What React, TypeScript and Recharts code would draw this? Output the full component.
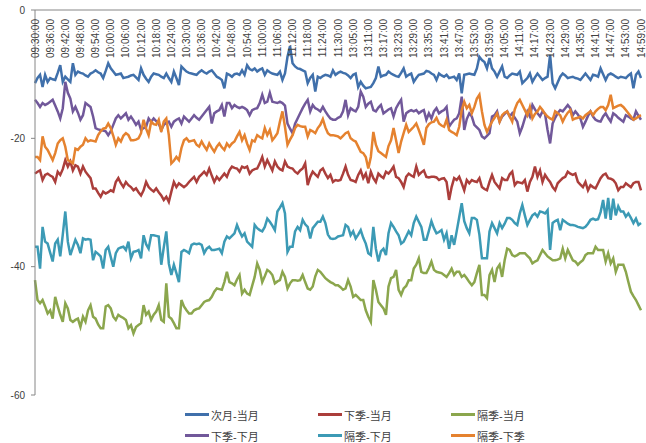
import { LineChart, Line, XAxis, YAxis } from "recharts";

// trading sessions (one point per minute)
const SESSIONS = [
    { start: "09:30", end: "11:30" },
    { start: "13:00", end: "14:59" },
];

const Y_TICKS = [0, -20, -40, -60];

// 次月-当月
const nextMonthVsCurrent = [
    -11.4, -10.6, -10.1, -12.0, -10.1, -11.2, -10.6, -10.8, -10.9, -9.8,
    -8.6, -11.2, -10.4, -10.8, -11.2, -8.3, -10.1, -9.6, -9.8, -9.9,
    -10.2, -10.4, -9.9, -9.7, -9.4, -9.7, -9.9, -10.6, -9.5, -8.3,
    -9.1, -9.6, -10.1, -10.0, -9.9, -10.6, -10.5, -10.4, -10.2, -10.1,
    -10.5, -10.9, -9.1, -10.1, -10.7, -11.2, -10.4, -9.9, -10.0, -10.1,
    -10.4, -10.6, -9.9, -10.6, -11.2, -9.6, -10.6, -11.7, -8.8, -9.2,
    -9.6, -9.8, -9.9, -10.0, -10.1, -9.7, -9.4, -9.7, -9.9, -9.6,
    -9.4, -9.9, -10.4, -10.6, -10.9, -12.2, -9.9, -10.1, -10.4, -10.0,
    -9.9, -10.1, -9.4, -10.1, -8.6, -9.2, -9.4, -9.1, -9.6, -9.3,
    -9.1, -10.1, -9.4, -9.7, -9.9, -10.0, -10.1, -9.6, -10.9, -9.9,
    -7.3, -5.6, -8.3, -8.8, -9.1, -9.2, -9.4, -9.6, -11.4, -10.6,
    -10.1, -12.7, -10.4, -10.6, -10.3, -10.1, -10.2, -10.4, -9.4, -10.1,
    -9.8, -9.6, -9.8, -9.9, -10.2, -10.6, -10.1, -9.9, -12.0, -11.2,
    -11.8, -12.2, -12.1, -12.0, -11.4, -10.6, -8.8, -10.4, -10.2, -10.1,
    -9.6, -9.9, -10.1, -10.3, -10.4, -9.8, -9.1, -10.4, -10.1, -9.9,
    -11.2, -10.6, -10.1, -10.0, -9.9, -9.5, -9.6, -9.9, -10.1, -10.9,
    -9.9, -10.2, -10.4, -10.1, -10.6, -10.5, -10.4, -10.9, -9.9, -13.0,
    -10.1, -10.0, -9.9, -10.0, -10.1, -9.1, -7.3, -7.8, -8.1, -9.1,
    -7.5, -9.1, -9.6, -10.4, -9.6, -8.8, -10.4, -10.6, -10.2, -9.9,
    -10.0, -10.1, -9.6, -11.4, -11.0, -10.6, -9.9, -11.2, -10.5, -9.9,
    -10.4, -10.9, -10.6, -10.4, -7.0, -11.4, -12.2, -11.3, -10.4, -9.9,
    -10.2, -10.6, -10.5, -10.4, -10.6, -10.7, -10.9, -10.4, -9.9, -10.4,
    -10.9, -10.1, -10.2, -10.4, -9.1, -10.0, -10.9, -10.1, -9.9, -10.1,
    -10.4, -10.6, -10.4, -10.5, -10.6, -10.2, -9.9, -12.2, -10.1, -9.6,
    -10.6,
];

// 下季-当月
const nextQuarterVsCurrent = [
    -25.5, -25.2, -25.0, -26.5, -25.7, -25.5, -25.8, -26.0, -26.8, -25.2,
    -25.7, -24.8, -23.4, -24.4, -23.6, -25.0, -24.2, -24.4, -25.5, -24.4,
    -25.2, -25.7, -26.2, -27.8, -27.8, -28.5, -29.1, -28.3, -28.6, -28.4,
    -28.1, -28.3, -26.8, -26.2, -27.0, -27.6, -26.8, -27.3, -27.6, -28.1,
    -27.8, -28.4, -28.9, -28.1, -26.8, -27.6, -28.0, -28.3, -27.8, -28.4,
    -28.9, -29.6, -29.1, -29.9, -28.3, -26.8, -27.6, -27.0, -27.3, -27.6,
    -27.3, -26.8, -26.4, -26.0, -26.8, -26.0, -25.6, -25.2, -25.7, -24.7,
    -25.8, -26.8, -26.0, -26.5, -26.0, -25.5, -26.0, -25.0, -24.4, -24.6,
    -24.7, -25.2, -24.4, -24.6, -24.4, -25.5, -25.0, -24.8, -24.7, -23.9,
    -22.9, -24.4, -23.4, -24.2, -25.0, -23.6, -24.4, -24.8, -25.0, -23.6,
    -24.4, -24.6, -24.7, -25.2, -25.5, -25.0, -24.7, -23.9, -27.3, -26.0,
    -25.2, -25.6, -26.0, -25.0, -24.7, -25.5, -26.2, -25.7, -26.8, -26.5,
    -26.6, -26.5, -25.5, -24.4, -25.7, -26.5, -26.6, -26.8, -25.7, -25.0,
    -26.2, -25.5, -27.0, -25.2, -26.2, -26.8, -25.5, -25.9, -26.2, -25.2,
    -25.5, -25.0, -24.4, -26.0, -26.2, -26.8, -27.6, -26.0, -25.5, -25.8,
    -26.0, -24.4, -25.7, -25.3, -25.0, -26.0, -26.1, -26.0, -26.0, -26.1,
    -26.5, -26.3, -26.2, -26.8, -29.6, -27.6, -26.2, -26.5, -26.0, -27.0,
    -28.1, -26.5, -27.0, -26.5, -26.7, -26.8, -26.2, -27.6, -27.9, -28.1,
    -26.8, -25.7, -26.8, -27.3, -27.8, -26.2, -26.5, -26.5, -25.6, -25.2,
    -27.3, -26.8, -26.9, -27.0, -26.5, -28.3, -26.8, -26.0, -24.4, -26.0,
    -25.0, -26.8, -25.7, -26.3, -26.8, -27.6, -28.1, -27.0, -26.6, -26.2,
    -26.0, -25.2, -25.5, -25.7, -25.5, -26.8, -27.2, -27.6, -26.8, -28.1,
    -27.3, -27.6, -27.8, -27.0, -26.2, -25.7, -25.5, -26.2, -26.3, -26.5,
    -27.0, -28.1, -27.6, -27.6, -27.0, -27.3, -27.6, -27.0, -26.8, -26.8,
    -28.1,
];

// 隔季-当月
const farQuarterVsCurrent = [
    -42.1, -45.2, -45.7, -45.2, -46.2, -47.3, -46.8, -48.1, -44.7, -46.2,
    -47.5, -48.6, -45.7, -46.5, -48.3, -48.6, -48.3, -48.1, -49.4, -47.8,
    -48.6, -46.8, -46.0, -47.8, -48.1, -49.0, -49.6, -49.6, -46.2, -46.0,
    -46.5, -47.8, -48.3, -47.5, -47.8, -48.0, -48.3, -49.6, -49.1, -50.4,
    -49.4, -49.1, -48.8, -46.0, -47.5, -47.0, -48.3, -47.5, -47.0, -46.0,
    -48.3, -48.6, -42.6, -47.8, -48.1, -48.8, -49.6, -49.6, -45.2, -46.2,
    -46.8, -47.3, -47.3, -46.8, -46.6, -46.5, -46.0, -45.5, -45.3, -45.2,
    -44.7, -43.9, -43.4, -43.5, -43.6, -42.4, -40.8, -42.4, -42.6, -42.9,
    -42.0, -41.3, -44.2, -43.6, -44.2, -44.4, -43.0, -41.6, -39.5, -40.5,
    -42.4, -41.5, -40.5, -40.8, -41.3, -42.6, -42.3, -42.1, -40.8, -41.6,
    -43.4, -42.6, -42.1, -42.1, -42.2, -42.1, -41.3, -42.4, -43.4, -43.6,
    -43.1, -41.5, -40.5, -40.8, -41.3, -41.8, -42.1, -42.4, -42.6, -42.9,
    -42.9, -43.2, -43.6, -43.4, -42.1, -43.1, -44.7, -44.4, -44.8, -45.2,
    -45.2, -46.8, -47.8, -48.6, -42.1, -43.6, -45.5, -46.0, -46.5, -47.5,
    -43.1, -41.8, -41.6, -40.5, -43.6, -44.4, -43.4, -43.0, -42.1, -42.1,
    -40.3, -39.7, -38.7, -40.8, -41.0, -41.0, -40.2, -39.2, -40.5, -40.8,
    -40.9, -41.0, -41.3, -41.6, -41.0, -40.3, -41.3, -40.8, -40.8, -41.6,
    -41.3, -41.8, -42.4, -42.9, -42.4, -41.0, -39.7, -44.4, -44.4, -44.9,
    -41.3, -40.5, -42.4, -40.3, -39.7, -41.6, -39.0, -37.2, -37.4, -38.2,
    -38.4, -38.2, -37.9, -37.9, -37.9, -38.3, -38.7, -39.5, -39.2, -39.0,
    -38.2, -37.4, -37.9, -38.4, -38.7, -39.0, -39.0, -38.9, -38.7, -37.2,
    -38.7, -37.4, -38.2, -39.0, -39.2, -39.7, -39.3, -39.0, -38.2, -37.9,
    -37.9, -37.9, -36.9, -37.4, -37.4, -37.4, -39.2, -37.9, -39.5, -38.7,
    -40.8, -39.7, -39.7, -39.7, -40.8, -42.4, -43.9, -44.6, -45.2, -46.0,
    -46.8,
];

// 下季-下月
const nextQuarterVsNextMonth = [
    -14.0, -14.5, -15.1, -14.5, -14.8, -14.6, -14.3, -14.0, -14.9, -15.8,
    -16.9, -15.3, -11.2, -12.9, -13.8, -15.8, -15.1, -16.0, -17.1, -16.4,
    -14.5, -14.8, -15.1, -16.6, -18.4, -18.6, -18.7, -18.8, -18.9, -19.5,
    -18.9, -17.9, -16.9, -16.4, -16.9, -16.5, -16.1, -17.1, -16.6, -17.2,
    -17.9, -17.4, -18.7, -18.4, -18.2, -16.9, -17.4, -16.9, -17.3, -17.7,
    -18.7, -17.9, -17.6, -17.4, -18.2, -17.4, -17.1, -16.9, -17.7, -16.6,
    -17.0, -17.4, -16.9, -16.4, -16.8, -17.1, -16.6, -16.1, -15.6, -15.1,
    -17.7, -16.1, -15.8, -15.6, -14.8, -16.6, -14.5, -14.5, -15.3, -14.8,
    -15.1, -15.3, -15.1, -15.3, -15.6, -16.4, -15.6, -15.4, -15.3, -14.5,
    -13.2, -14.5, -14.3, -12.9, -14.3, -14.4, -14.5, -14.3, -14.5, -14.9,
    -17.7, -18.5, -19.2, -17.7, -16.9, -16.1, -15.3, -14.6, -14.0, -15.8,
    -14.8, -15.3, -15.5, -15.8, -15.1, -15.8, -16.4, -16.9, -17.1, -17.1,
    -16.8, -16.6, -15.8, -14.0, -16.4, -15.3, -15.6, -15.8, -15.1, -12.7,
    -13.5, -15.1, -14.6, -14.3, -15.6, -15.8, -15.2, -14.8, -16.1, -15.8,
    -15.5, -15.3, -16.6, -15.3, -14.6, -14.0, -17.4, -16.1, -15.8, -15.6,
    -15.8, -15.6, -16.1, -15.8, -15.6, -17.1, -16.1, -16.9, -15.8, -15.3,
    -16.1, -15.8, -15.6, -15.1, -18.2, -17.6, -17.1, -16.9, -16.1, -13.5,
    -18.7, -17.0, -16.1, -16.6, -17.9, -18.3, -18.7, -19.7, -20.0, -19.6,
    -19.2, -16.6, -16.4, -15.8, -17.4, -16.6, -16.2, -15.8, -16.6, -16.1,
    -16.8, -17.4, -19.2, -18.2, -16.9, -15.8, -16.6, -14.8, -15.5, -16.1,
    -16.6, -15.8, -16.2, -18.7, -20.8, -17.7, -16.8, -16.1, -15.6, -15.8,
    -15.3, -14.8, -15.3, -16.4, -15.8, -16.3, -16.9, -18.2, -17.4, -16.5,
    -15.8, -16.6, -17.1, -17.3, -17.4, -16.6, -16.1, -16.8, -17.4, -16.1,
    -16.4, -16.8, -17.1, -17.4, -16.4, -16.6, -16.9, -17.1, -15.8, -16.5,
    -17.1,
];

// 隔季-下月
const farQuarterVsNextMonth = [
    -36.9, -36.9, -40.3, -33.8, -36.1, -36.4, -37.8, -39.2, -36.4, -35.8,
    -38.4, -35.0, -31.4, -36.1, -38.2, -37.0, -35.8, -36.6, -37.9, -35.6,
    -35.8, -35.7, -35.8, -39.0, -37.7, -38.0, -38.4, -40.3, -37.4, -36.9,
    -38.5, -40.0, -37.9, -37.2, -37.0, -36.9, -37.4, -36.1, -38.7, -37.7,
    -37.6, -37.4, -38.7, -35.1, -36.5, -37.2, -35.1, -35.1, -35.2, -35.3,
    -39.7, -37.0, -34.5, -39.5, -41.3, -39.7, -41.0, -42.4, -37.7, -37.4,
    -37.6, -37.9, -36.6, -36.4, -36.5, -36.4, -36.6, -37.9, -37.2, -36.9,
    -37.4, -37.4, -37.3, -37.2, -37.9, -36.1, -35.3, -35.6, -35.2, -34.8,
    -33.5, -34.5, -35.3, -34.8, -36.1, -36.5, -36.9, -33.5, -34.0, -34.3,
    -34.5, -33.8, -32.5, -33.0, -33.6, -34.3, -31.4, -30.8, -30.1, -31.7,
    -37.7, -36.9, -36.9, -34.5, -33.8, -34.3, -32.7, -33.4, -33.8, -35.6,
    -34.0, -33.5, -33.0, -33.0, -32.2, -33.2, -35.0, -35.6, -35.7, -35.6,
    -35.3, -35.2, -35.1, -33.5, -33.8, -35.1, -34.5, -35.6, -35.0, -34.3,
    -35.5, -36.4, -37.9, -38.2, -33.8, -37.2, -39.2, -37.6, -37.2, -38.2,
    -34.8, -33.2, -33.8, -34.5, -35.1, -36.4, -36.1, -35.3, -34.5, -35.1,
    -33.2, -32.2, -33.0, -33.8, -35.8, -35.8, -34.4, -32.9, -34.0, -34.8,
    -34.6, -34.3, -35.8, -34.8, -37.2, -35.1, -36.6, -34.5, -32.3, -30.1,
    -32.9, -34.0, -34.8, -32.4, -32.4, -32.7, -35.0, -38.7, -38.7, -38.7,
    -34.5, -33.2, -34.0, -34.8, -33.2, -34.0, -33.3, -32.4, -32.4, -32.7,
    -33.2, -33.5, -31.7, -30.4, -32.0, -33.5, -32.7, -32.0, -31.7, -32.2,
    -31.4, -31.5, -31.7, -31.2, -37.4, -33.2, -32.9, -32.7, -34.3, -32.7,
    -33.0, -33.3, -33.5, -33.5, -33.6, -33.8, -33.9, -34.0, -33.8, -33.3,
    -32.7, -32.5, -32.7, -32.6, -31.5, -29.6, -32.5, -29.3, -32.7, -29.4,
    -32.0, -30.6, -31.4, -31.4, -32.2, -31.7, -32.4, -33.2, -32.5, -33.5,
    -33.2,
];

// 隔季-下季
const farQuarterVsNextQuarter = [
    -22.9, -22.9, -23.4, -19.7, -21.3, -21.8, -22.6, -23.4, -22.3, -20.8,
    -20.3, -20.0, -21.3, -23.4, -23.6, -23.9, -21.6, -21.8, -21.3, -21.0,
    -20.0, -20.5, -20.3, -20.4, -20.5, -19.5, -18.9, -18.5, -18.4, -17.7,
    -18.4, -19.6, -21.0, -20.0, -20.5, -19.6, -19.2, -19.5, -20.3, -20.3,
    -20.2, -20.0, -19.2, -17.1, -18.5, -19.5, -17.4, -17.8, -17.9, -17.1,
    -19.0, -17.4, -16.9, -19.5, -23.9, -23.5, -22.9, -23.4, -21.5, -20.3,
    -20.0, -20.5, -20.4, -20.3, -21.0, -21.3, -20.5, -21.2, -21.8, -20.8,
    -21.5, -22.1, -21.3, -20.8, -21.4, -21.8, -20.8, -21.3, -20.8, -20.5,
    -19.7, -19.0, -20.3, -19.5, -20.8, -21.8, -20.3, -20.5, -19.5, -19.8,
    -20.0, -18.4, -19.5, -18.7, -20.3, -19.8, -19.2, -17.4, -15.8, -18.2,
    -21.0, -20.2, -19.5, -18.4, -17.9, -18.1, -18.2, -18.2, -19.7, -18.7,
    -18.9, -19.2, -18.4, -17.9, -17.0, -18.3, -19.2, -19.5, -19.5, -19.6,
    -19.7, -20.0, -19.6, -19.2, -19.0, -20.0, -20.3, -20.5, -21.3, -22.1,
    -22.3, -22.9, -24.7, -22.9, -19.0, -21.0, -22.0, -22.3, -22.6, -22.9,
    -21.2, -20.3, -18.4, -20.3, -22.3, -20.5, -19.2, -17.9, -19.0, -18.6,
    -18.2, -17.7, -18.7, -19.8, -21.0, -18.4, -17.8, -17.5, -17.4, -16.8,
    -17.7, -18.0, -18.2, -17.1, -18.7, -19.0, -19.2, -19.5, -18.2, -15.6,
    -14.3, -15.3, -14.8, -16.1, -15.1, -13.8, -13.2, -15.8, -17.9, -19.0,
    -18.2, -17.4, -16.8, -16.1, -17.4, -16.4, -16.0, -15.8, -16.6, -17.4,
    -15.5, -14.5, -14.0, -14.8, -15.6, -16.4, -15.1, -16.9, -16.2, -15.8,
    -15.1, -15.6, -16.2, -16.6, -16.9, -17.1, -15.8, -16.1, -16.4, -17.4,
    -16.6, -16.0, -15.6, -17.1, -16.9, -16.8, -16.6, -16.9, -16.4, -16.1,
    -15.8, -16.4, -15.8, -15.4, -15.1, -15.1, -15.6, -14.8, -13.2, -15.3,
    -15.1, -14.9, -14.8, -15.1, -15.6, -16.1, -16.6, -17.1, -16.9, -16.6,
    -16.4,
];

const SERIES = [
    { key: "s1", name: "次月-当月", color: "#4070AB", values: nextMonthVsCurrent },
    { key: "s2", name: "下季-当月", color: "#AB3E3B", values: nextQuarterVsCurrent },
    { key: "s3", name: "隔季-当月", color: "#8BA64D", values: farQuarterVsCurrent },
    { key: "s4", name: "下季-下月", color: "#71589A", values: nextQuarterVsNextMonth },
    { key: "s5", name: "隔季-下月", color: "#3C9AB5", values: farQuarterVsNextMonth },
    { key: "s6", name: "隔季-下季", color: "#E5822F", values: farQuarterVsNextQuarter },
];

const toMin = (s: string) => {
    const [h, m] = s.split(":").map(Number);
    return h * 60 + m;
};
const pad = (n: number) => String(n).padStart(2, "0");

function buildTimes() {
    const out: string[] = [];
    SESSIONS.forEach(({ start, end }) => {
        for (let t = toMin(start); t <= toMin(end); t++) {
            out.push(`${pad(Math.floor(t / 60))}:${pad(t % 60)}:00`);
        }
    });
    return out;
}

const times = buildTimes();
const data = times.map((time, i) => {
    const row: Record<string, string | number> = { time };
    SERIES.forEach((s) => {
        row[s.key] = s.values[i];
    });
    return row;
});

const FONT = "'Liberation Sans', Arial, 'Noto Sans CJK SC', sans-serif";
const PLOT_TOP = 10;

const TimeTick = (props: any) => {
    const { x, payload } = props;
    return (
        <text
            transform={`translate(${x},${PLOT_TOP + 9}) rotate(-90)`}
            textAnchor="end"
            dy="0.35em"
            fontSize={10}
            fontFamily={FONT}
            fill="#404040"
        >
            {payload.value}
        </text>
    );
};

export default function App() {
    return (
        <div style={{ position: "absolute", left: 0, top: 0, width: 646, height: 443, background: "#fff" }}>
            <LineChart
                width={646}
                height={443}
                data={data}
                margin={{ top: PLOT_TOP - 1, right: 5, left: 0, bottom: 48 }}
            >
                <XAxis
                    dataKey="time"
                    orientation="top"
                    height={1}
                    interval={5}
                    tick={<TimeTick />}
                    tickLine={false}
                    axisLine={{ stroke: "#868686" }}
                />
                <YAxis
                    domain={[-60, 0]}
                    ticks={Y_TICKS}
                    width={35}
                    tickSize={4}
                    tickMargin={6}
                    axisLine={{ stroke: "#868686" }}
                    tickLine={{ stroke: "#868686" }}
                    tick={{ fontSize: 10, fill: "#404040", fontFamily: FONT }}
                />
                {SERIES.map((s) => (
                    <Line
                        key={s.key}
                        type="linear"
                        dataKey={s.key}
                        name={s.name}
                        stroke={s.color}
                        strokeWidth={2.5}
                        dot={false}
                        isAnimationActive={false}
                    />
                ))}
            </LineChart>
            <div
                style={{
                    position: "absolute",
                    left: 185,
                    top: 404,
                    display: "grid",
                    gridTemplateColumns: "133px 133px 133px",
                    gridAutoRows: "21px",
                    fontFamily: FONT,
                    fontSize: 11,
                    color: "#404040",
                }}
            >
                {SERIES.map((s) => (
                    <div key={s.key} style={{ display: "flex", alignItems: "center" }}>
                        <span style={{ width: 24, height: 3, background: s.color, marginRight: 2 }} />
                        <span>{s.name}</span>
                    </div>
                ))}
            </div>
        </div>
    );
}
